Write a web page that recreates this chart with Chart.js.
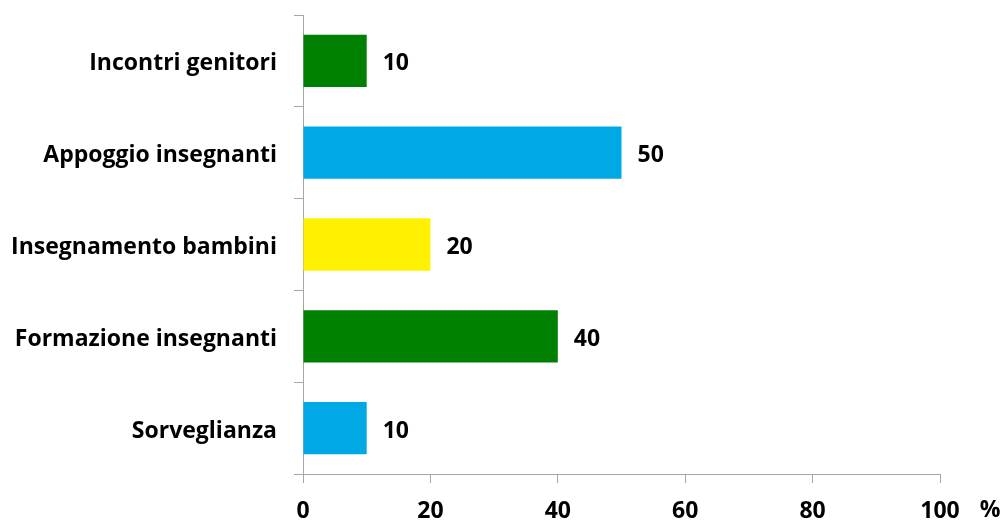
<!DOCTYPE html>
<html>
<head>
<meta charset="utf-8">
<script src="https://cdn.jsdelivr.net/npm/chart.js@4"></script>
<style>
  html, body { margin: 0; padding: 0; background: #fff; }
  #wrap { width: 1006px; height: 520px; }
</style>
</head>
<body>
<div id="wrap"><canvas id="chart"></canvas></div>
<script>
// Data
const categories = ['Incontri genitori', 'Appoggio insegnanti', 'Insegnamento bambini', 'Formazione insegnanti', 'Sorveglianza'];
const values = [10, 50, 20, 40, 10];
const barColors = ['#008000', '#00A9E6', '#FFF100', '#008000', '#00A9E6'];
const xTicks = [0, 20, 40, 60, 80, 100];

const axisGray = '#A6A6A6';
const fontFamily = "'Open Sans', sans-serif";
const fontSize = 23;

// value labels next to bars + the "%" unit
const valueLabels = {
  id: 'valueLabels',
  afterDatasetsDraw(chart) {
    const ctx = chart.ctx;
    const meta = chart.getDatasetMeta(0);
    ctx.save();
    ctx.font = 'bold ' + fontSize + 'px ' + fontFamily;
    ctx.fillStyle = '#000';
    ctx.textBaseline = 'middle';
    ctx.textAlign = 'left';
    meta.data.forEach((bar, i) => {
      ctx.fillText(String(values[i]), bar.x + 16, bar.y + 3);
    });
    const xs = chart.scales.x;
    ctx.textAlign = 'center';
    ctx.fillText('%', xs.right + 50, xs.bottom - 10);
    ctx.restore();
  }
};

new Chart(document.getElementById('chart'), {
  type: 'bar',
  data: {
    labels: categories,
    datasets: [{
      data: values,
      backgroundColor: barColors,
      borderWidth: 0,
      categoryPercentage: 1,
      barPercentage: 0.57
    }]
  },
  options: {
    indexAxis: 'y',
    responsive: true,
    maintainAspectRatio: false,
    animation: false,
    layout: { padding: { top: 15, right: 66, left: 0, bottom: 0 } },
    plugins: { legend: { display: false }, tooltip: { enabled: false } },
    scales: {
      x: {
        min: 0,
        max: 100,
        afterBuildTicks: (scale) => { scale.ticks = xTicks.map(v => ({ value: v })); },
        afterFit: (scale) => { scale.height = 46; scale.paddingLeft = 0; scale.paddingRight = 0; },
        grid: { drawOnChartArea: false, drawTicks: true, tickLength: 9, color: axisGray, lineWidth: 1 },
        border: { color: axisGray, width: 1 },
        ticks: { color: '#000', padding: 15, font: { family: fontFamily, size: fontSize, weight: 'bold' } }
      },
      y: {
        afterFit: (scale) => { scale.width = 303; scale.paddingTop = 0; scale.paddingBottom = 0; },
        grid: { drawOnChartArea: false, drawTicks: true, tickLength: 9, color: axisGray, lineWidth: 1, offset: true },
        border: { color: axisGray, width: 1 },
        ticks: { color: '#000', padding: 17, labelOffset: 3, font: { family: fontFamily, size: fontSize, weight: 'bold' } }
      }
    }
  },
  plugins: [valueLabels]
});
</script>
</body>
</html>
